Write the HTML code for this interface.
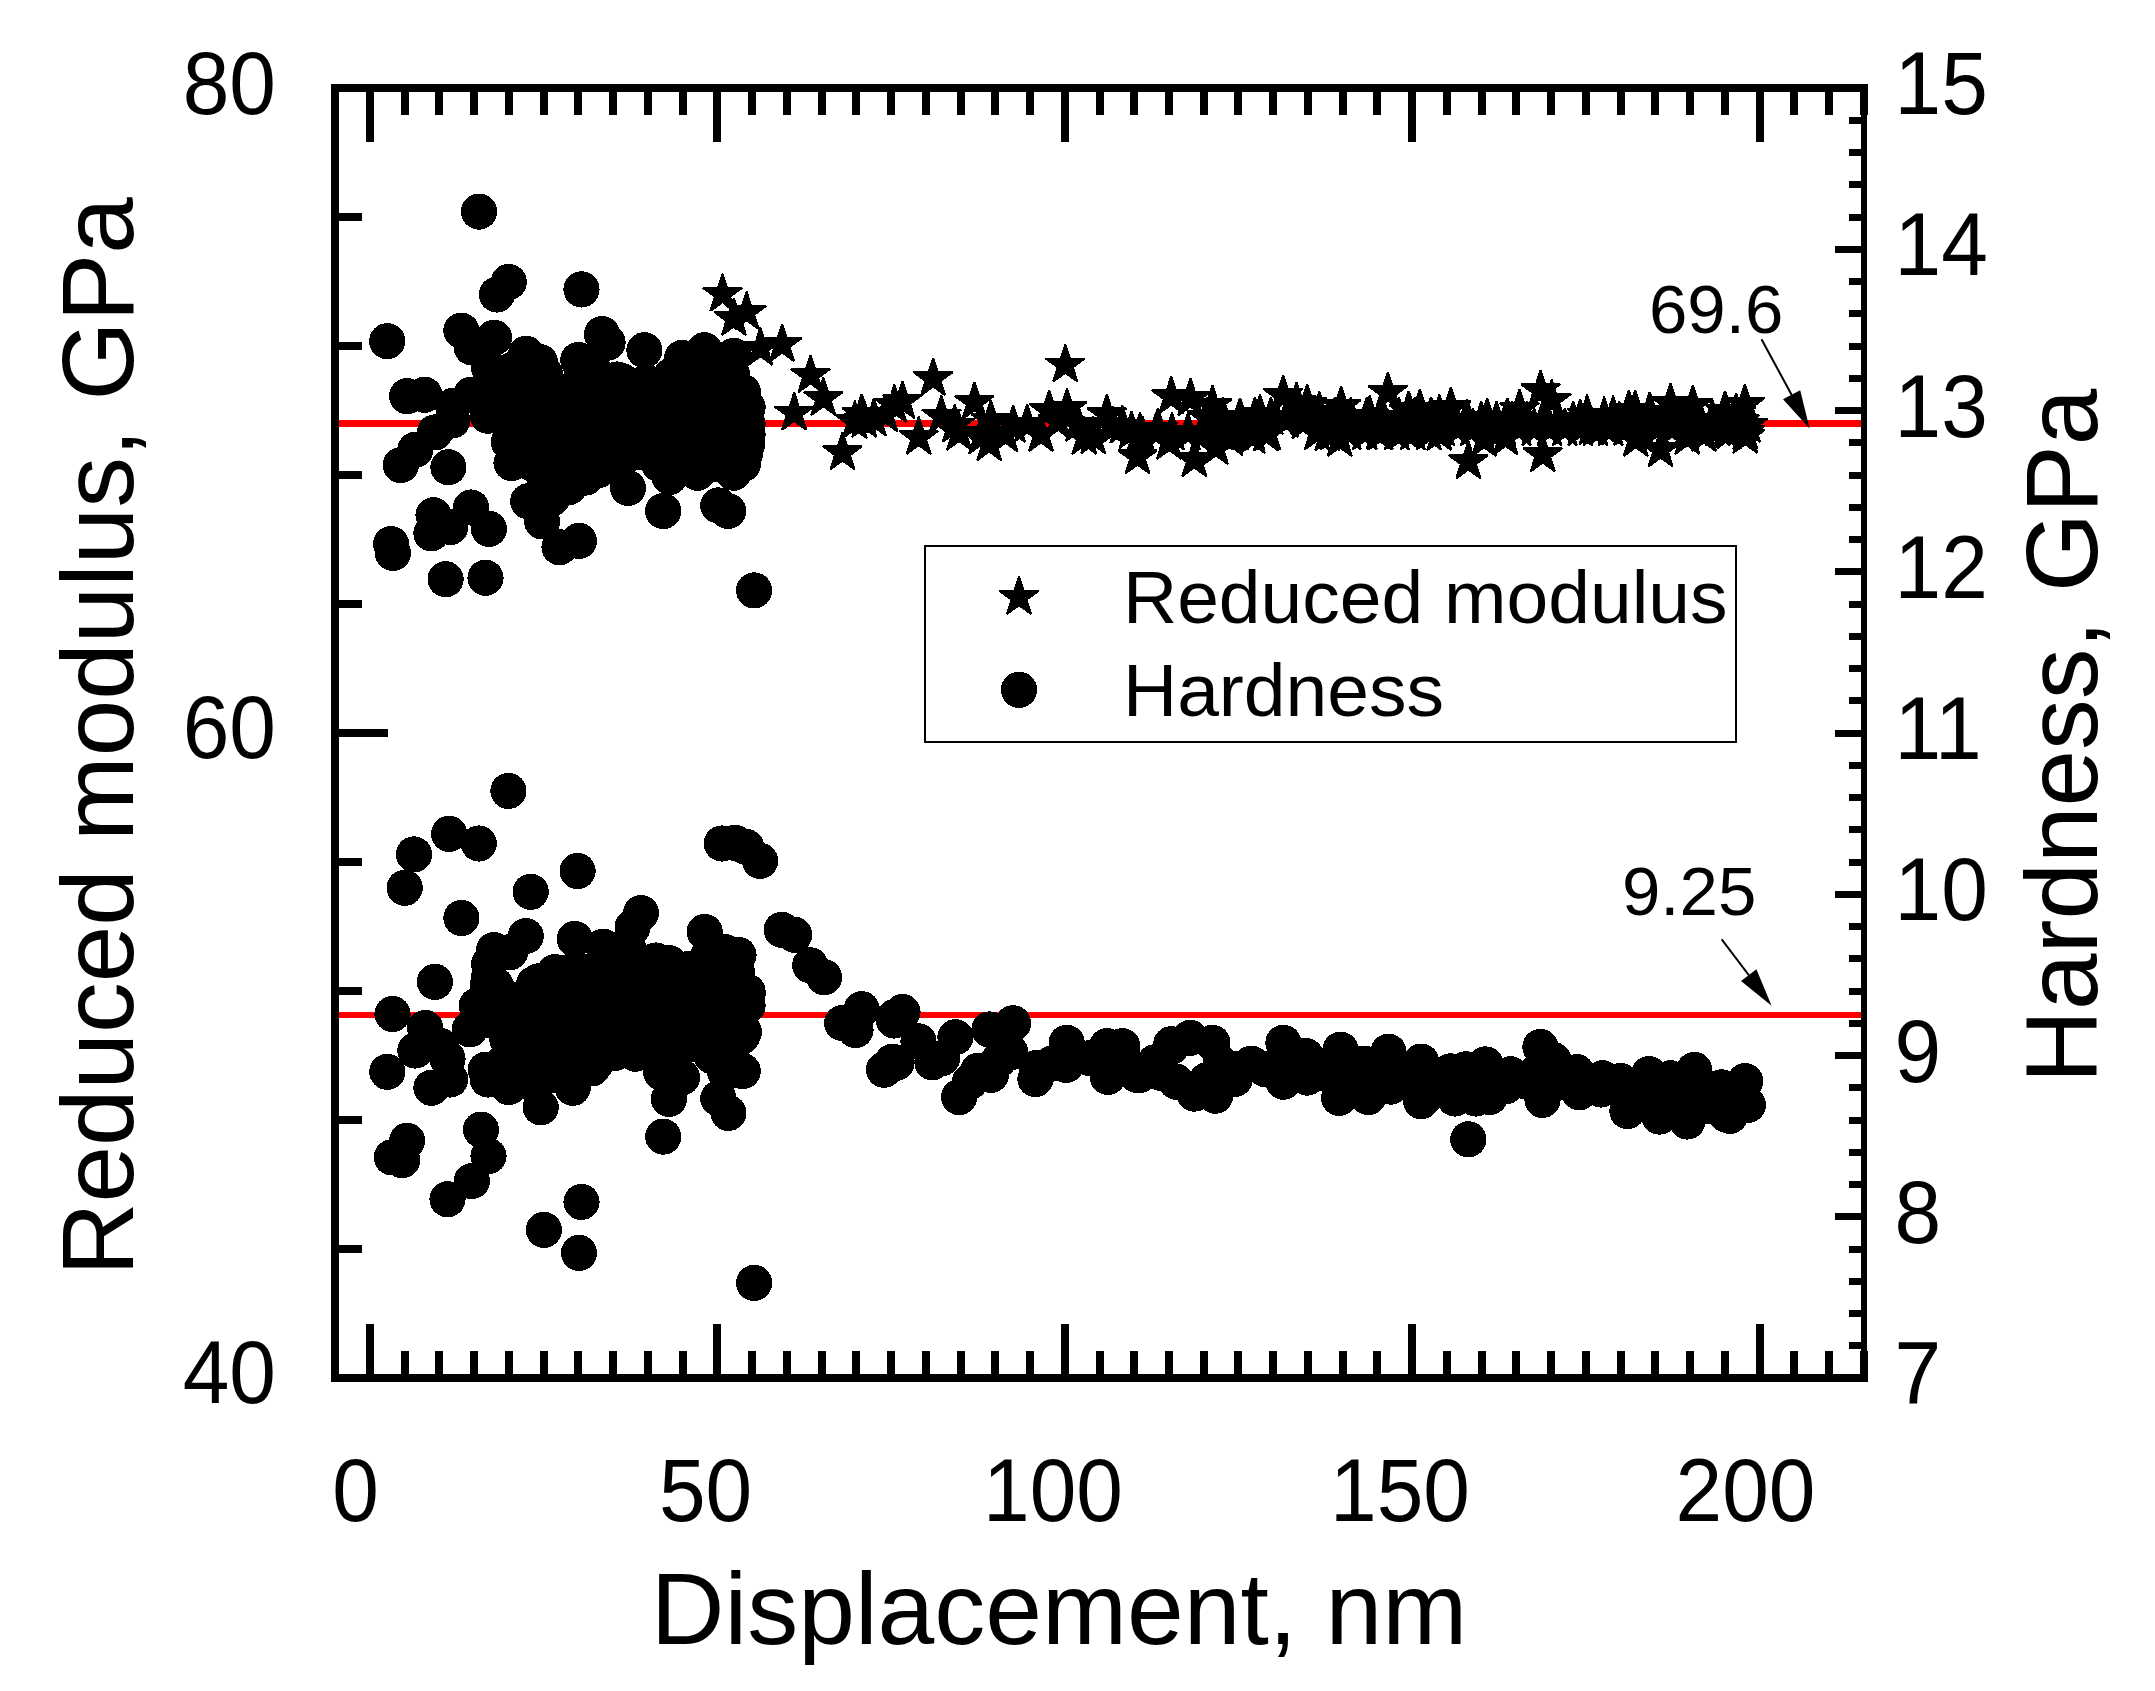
<!DOCTYPE html>
<html><head><meta charset="utf-8"><title>Reduced modulus and hardness vs displacement</title>
<style>html,body{margin:0;padding:0;background:#fff}svg{display:block}text{font-family:"Liberation Sans",Arial,sans-serif;fill:#000}</style></head><body>
<svg width="2155" height="1691" viewBox="0 0 2155 1691">
<rect width="2155" height="1691" fill="#fff"/>
<g fill="#f00" shape-rendering="crispEdges">
<rect x="339" y="420" width="1522" height="7"/>
<rect x="339" y="1012" width="1522" height="6"/>
</g>
<g fill="#000" stroke="#000" stroke-width="2" stroke-linejoin="bevel" shape-rendering="crispEdges">
<polygon points="722.5,273.7 727.1,287.9 742.1,287.9 730.0,296.7 734.6,311.0 722.5,302.2 710.4,311.0 715.0,296.7 702.9,287.9 717.9,287.9"/>
<polygon points="746.6,291.8 751.2,306.0 766.2,306.0 754.1,314.8 758.7,329.1 746.6,320.3 734.5,329.1 739.1,314.8 727.0,306.0 742.0,306.0"/>
<polygon points="733.9,297.9 738.5,312.1 753.5,312.1 741.4,320.9 746.0,335.2 733.9,326.4 721.8,335.2 726.4,320.9 714.3,312.1 729.3,312.1"/>
<polygon points="782.1,324.0 786.7,338.2 801.7,338.2 789.6,347.0 794.2,361.3 782.1,352.5 770.0,361.3 774.6,347.0 762.5,338.2 777.5,338.2"/>
<polygon points="760.4,327.7 765.0,341.9 780.0,341.9 767.9,350.7 772.5,365.0 760.4,356.2 748.3,365.0 752.9,350.7 740.8,341.9 755.8,341.9"/>
<polygon points="810.5,354.9 815.1,369.1 830.1,369.1 818.0,377.9 822.6,392.2 810.5,383.4 798.4,392.2 803.0,377.9 790.9,369.1 805.9,369.1"/>
<polygon points="823.4,377.8 828.0,392.0 843.0,392.0 830.9,400.8 835.5,415.1 823.4,406.3 811.3,415.1 815.9,400.8 803.8,392.0 818.8,392.0"/>
<polygon points="794.2,392.5 798.8,406.7 813.8,406.7 801.7,415.5 806.3,429.8 794.2,421.0 782.1,429.8 786.7,415.5 774.6,406.7 789.6,406.7"/>
<polygon points="861.7,393.9 866.3,408.1 881.3,408.1 869.2,416.9 873.8,431.2 861.7,422.4 849.6,431.2 854.2,416.9 842.1,408.1 857.1,408.1"/>
<polygon points="854.8,400.8 859.4,415.0 874.4,415.0 862.3,423.8 866.9,438.1 854.8,429.3 842.7,438.1 847.3,423.8 835.2,415.0 850.2,415.0"/>
<polygon points="894.4,384.8 899.0,399.0 914.0,399.0 901.9,407.8 906.5,422.1 894.4,413.3 882.3,422.1 886.9,407.8 874.8,399.0 889.8,399.0"/>
<polygon points="885.4,394.3 890.0,408.5 905.0,408.5 892.9,417.3 897.5,431.6 885.4,422.8 873.3,431.6 877.9,417.3 865.8,408.5 880.8,408.5"/>
<polygon points="842.5,432.1 847.1,446.3 862.1,446.3 850.0,455.1 854.6,469.4 842.5,460.6 830.4,469.4 835.0,455.1 822.9,446.3 837.9,446.3"/>
<polygon points="933.1,358.0 937.7,372.2 952.7,372.2 940.6,381.0 945.2,395.3 933.1,386.5 921.0,395.3 925.6,381.0 913.5,372.2 928.5,372.2"/>
<polygon points="1065.3,344.3 1069.9,358.5 1084.9,358.5 1072.8,367.3 1077.4,381.6 1065.3,372.8 1053.2,381.6 1057.8,367.3 1045.7,358.5 1060.7,358.5"/>
<polygon points="902.5,380.9 907.1,395.1 922.1,395.1 910.0,403.9 914.6,418.2 902.5,409.4 890.4,418.2 895.0,403.9 882.9,395.1 897.9,395.1"/>
<polygon points="974.4,381.9 979.0,396.1 994.0,396.1 981.9,404.9 986.5,419.2 974.4,410.4 962.3,419.2 966.9,404.9 954.8,396.1 969.8,396.1"/>
<polygon points="990.9,400.0 995.5,414.2 1010.5,414.2 998.4,423.0 1003.0,437.3 990.9,428.5 978.8,437.3 983.4,423.0 971.3,414.2 986.3,414.2"/>
<polygon points="1013.1,404.9 1017.7,419.1 1032.7,419.1 1020.6,427.9 1025.2,442.2 1013.1,433.4 1001.0,442.2 1005.6,427.9 993.5,419.1 1008.5,419.1"/>
<polygon points="1049.1,390.0 1053.7,404.2 1068.7,404.2 1056.6,413.0 1061.2,427.3 1049.1,418.5 1037.0,427.3 1041.6,413.0 1029.5,404.2 1044.5,404.2"/>
<polygon points="1067.0,388.2 1071.6,402.4 1086.6,402.4 1074.5,411.2 1079.1,425.5 1067.0,416.7 1054.9,425.5 1059.5,411.2 1047.4,402.4 1062.4,402.4"/>
<polygon points="1106.8,394.2 1111.4,408.4 1126.4,408.4 1114.3,417.2 1118.9,431.5 1106.8,422.7 1094.7,431.5 1099.3,417.2 1087.2,408.4 1102.2,408.4"/>
<polygon points="1122.4,405.6 1127.0,419.8 1142.0,419.8 1129.9,428.6 1134.5,442.9 1122.4,434.1 1110.3,442.9 1114.9,428.6 1102.8,419.8 1117.8,419.8"/>
<polygon points="1142.6,416.0 1147.2,430.2 1162.2,430.2 1150.1,439.0 1154.7,453.3 1142.6,444.5 1130.5,453.3 1135.1,439.0 1123.0,430.2 1138.0,430.2"/>
<polygon points="1157.9,408.4 1162.5,422.6 1177.5,422.6 1165.4,431.4 1170.0,445.7 1157.9,436.9 1145.8,445.7 1150.4,431.4 1138.3,422.6 1153.3,422.6"/>
<polygon points="918.7,416.7 923.3,430.9 938.3,430.9 926.2,439.7 930.8,454.0 918.7,445.2 906.6,454.0 911.2,439.7 899.1,430.9 914.1,430.9"/>
<polygon points="959.1,412.5 963.7,426.7 978.7,426.7 966.6,435.5 971.2,449.8 959.1,441.0 947.0,449.8 951.6,435.5 939.5,426.7 954.5,426.7"/>
<polygon points="989.2,423.0 993.8,437.2 1008.8,437.2 996.7,446.0 1001.3,460.3 989.2,451.5 977.1,460.3 981.7,446.0 969.6,437.2 984.6,437.2"/>
<polygon points="981.1,416.4 985.7,430.6 1000.7,430.6 988.6,439.4 993.2,453.7 981.1,444.9 969.0,453.7 973.6,439.4 961.5,430.6 976.5,430.6"/>
<polygon points="1005.5,414.3 1010.1,428.5 1025.1,428.5 1013.0,437.3 1017.6,451.6 1005.5,442.8 993.4,451.6 998.0,437.3 985.9,428.5 1000.9,428.5"/>
<polygon points="1041.0,413.9 1045.6,428.1 1060.6,428.1 1048.5,436.9 1053.1,451.2 1041.0,442.4 1028.9,451.2 1033.5,436.9 1021.4,428.1 1036.4,428.1"/>
<polygon points="1084.4,416.7 1089.0,430.9 1104.0,430.9 1091.9,439.7 1096.5,454.0 1084.4,445.2 1072.3,454.0 1076.9,439.7 1064.8,430.9 1079.8,430.9"/>
<polygon points="1093.2,416.1 1097.8,430.3 1112.8,430.3 1100.7,439.1 1105.3,453.4 1093.2,444.6 1081.1,453.4 1085.7,439.1 1073.6,430.3 1088.6,430.3"/>
<polygon points="1137.5,436.2 1142.1,450.4 1157.1,450.4 1145.0,459.2 1149.6,473.5 1137.5,464.7 1125.4,473.5 1130.0,459.2 1117.9,450.4 1132.9,450.4"/>
<polygon points="1077.9,403.9 1082.5,418.1 1097.5,418.1 1085.4,426.9 1090.0,441.2 1077.9,432.4 1065.8,441.2 1070.4,426.9 1058.3,418.1 1073.3,418.1"/>
<polygon points="1112.7,406.7 1117.3,420.9 1132.3,420.9 1120.2,429.7 1124.8,444.0 1112.7,435.2 1100.6,444.0 1105.2,429.7 1093.1,420.9 1108.1,420.9"/>
<polygon points="941.4,395.5 946.0,409.7 961.0,409.7 948.9,418.5 953.5,432.8 941.4,424.0 929.3,432.8 933.9,418.5 921.8,409.7 936.8,409.7"/>
<polygon points="954.7,404.6 959.3,418.8 974.3,418.8 962.2,427.6 966.8,441.9 954.7,433.1 942.6,441.9 947.2,427.6 935.1,418.8 950.1,418.8"/>
<polygon points="873.9,398.3 878.5,412.5 893.5,412.5 881.4,421.3 886.0,435.6 873.9,426.8 861.8,435.6 866.4,421.3 854.3,412.5 869.3,412.5"/>
<polygon points="864.2,399.7 868.8,413.9 883.8,413.9 871.7,422.7 876.3,437.0 864.2,428.2 852.1,437.0 856.7,422.7 844.6,413.9 859.6,413.9"/>
<polygon points="1027.1,403.9 1031.7,418.1 1046.7,418.1 1034.6,426.9 1039.2,441.2 1027.1,432.4 1015.0,441.2 1019.6,426.9 1007.5,418.1 1022.5,418.1"/>
<polygon points="1057.7,401.1 1062.3,415.3 1077.3,415.3 1065.2,424.1 1069.8,438.4 1057.7,429.6 1045.6,438.4 1050.2,424.1 1038.1,415.3 1053.1,415.3"/>
<polygon points="1131.5,410.9 1136.1,425.1 1151.1,425.1 1139.0,433.9 1143.6,448.2 1131.5,439.4 1119.4,448.2 1124.0,433.9 1111.9,425.1 1126.9,425.1"/>
<polygon points="1171.3,376.1 1175.9,390.3 1190.9,390.3 1178.8,399.1 1183.4,413.4 1171.3,404.6 1159.2,413.4 1163.8,399.1 1151.7,390.3 1166.7,390.3"/>
<polygon points="1190.4,378.0 1195.0,392.2 1210.0,392.2 1197.9,401.0 1202.5,415.3 1190.4,406.5 1178.3,415.3 1182.9,401.0 1170.8,392.2 1185.8,392.2"/>
<polygon points="1212.4,385.0 1217.0,399.2 1232.0,399.2 1219.9,408.0 1224.5,422.3 1212.4,413.5 1200.3,422.3 1204.9,408.0 1192.8,399.2 1207.8,399.2"/>
<polygon points="1240.0,397.9 1244.6,412.1 1259.6,412.1 1247.5,420.9 1252.1,435.2 1240.0,426.4 1227.9,435.2 1232.5,420.9 1220.4,412.1 1235.4,412.1"/>
<polygon points="1260.0,394.2 1264.6,408.4 1279.6,408.4 1267.5,417.2 1272.1,431.5 1260.0,422.7 1247.9,431.5 1252.5,417.2 1240.4,408.4 1255.4,408.4"/>
<polygon points="1283.1,374.9 1287.7,389.1 1302.7,389.1 1290.6,397.9 1295.2,412.2 1283.1,403.4 1271.0,412.2 1275.6,397.9 1263.5,389.1 1278.5,389.1"/>
<polygon points="1296.6,381.9 1301.2,396.1 1316.2,396.1 1304.1,404.9 1308.7,419.2 1296.6,410.4 1284.5,419.2 1289.1,404.9 1277.0,396.1 1292.0,396.1"/>
<polygon points="1307.1,384.0 1311.7,398.2 1326.7,398.2 1314.6,407.0 1319.2,421.3 1307.1,412.5 1295.0,421.3 1299.6,407.0 1287.5,398.2 1302.5,398.2"/>
<polygon points="1319.2,391.6 1323.8,405.8 1338.8,405.8 1326.7,414.6 1331.3,428.9 1319.2,420.1 1307.1,428.9 1311.7,414.6 1299.6,405.8 1314.6,405.8"/>
<polygon points="1341.2,386.1 1345.8,400.3 1360.8,400.3 1348.7,409.1 1353.3,423.4 1341.2,414.6 1329.1,423.4 1333.7,409.1 1321.6,400.3 1336.6,400.3"/>
<polygon points="1387.8,371.9 1392.4,386.1 1407.4,386.1 1395.3,394.9 1399.9,409.2 1387.8,400.4 1375.7,409.2 1380.3,394.9 1368.2,386.1 1383.2,386.1"/>
<polygon points="1369.7,395.8 1374.3,410.0 1389.3,410.0 1377.2,418.8 1381.8,433.1 1369.7,424.3 1357.6,433.1 1362.2,418.8 1350.1,410.0 1365.1,410.0"/>
<polygon points="1408.7,390.9 1413.3,405.1 1428.3,405.1 1416.2,413.9 1420.8,428.2 1408.7,419.4 1396.6,428.2 1401.2,413.9 1389.1,405.1 1404.1,405.1"/>
<polygon points="1419.8,388.9 1424.4,403.1 1439.4,403.1 1427.3,411.9 1431.9,426.2 1419.8,417.4 1407.7,426.2 1412.3,411.9 1400.2,403.1 1415.2,403.1"/>
<polygon points="1439.3,394.4 1443.9,408.6 1458.9,408.6 1446.8,417.4 1451.4,431.7 1439.3,422.9 1427.2,431.7 1431.8,417.4 1419.7,408.6 1434.7,408.6"/>
<polygon points="1194.3,439.0 1198.9,453.2 1213.9,453.2 1201.8,462.0 1206.4,476.3 1194.3,467.5 1182.2,476.3 1186.8,462.0 1174.7,453.2 1189.7,453.2"/>
<polygon points="1169.2,421.6 1173.8,435.8 1188.8,435.8 1176.7,444.6 1181.3,458.9 1169.2,450.1 1157.1,458.9 1161.7,444.6 1149.6,435.8 1164.6,435.8"/>
<polygon points="1215.9,426.9 1220.5,441.1 1235.5,441.1 1223.4,449.9 1228.0,464.2 1215.9,455.4 1203.8,464.2 1208.4,449.9 1196.3,441.1 1211.3,441.1"/>
<polygon points="1230.5,417.8 1235.1,432.0 1250.1,432.0 1238.0,440.8 1242.6,455.1 1230.5,446.3 1218.4,455.1 1223.0,440.8 1210.9,432.0 1225.9,432.0"/>
<polygon points="1252.8,415.7 1257.4,429.9 1272.4,429.9 1260.3,438.7 1264.9,453.0 1252.8,444.2 1240.7,453.0 1245.3,438.7 1233.2,429.9 1248.2,429.9"/>
<polygon points="1266.0,413.2 1270.6,427.4 1285.6,427.4 1273.5,436.2 1278.1,450.5 1266.0,441.7 1253.9,450.5 1258.5,436.2 1246.4,427.4 1261.4,427.4"/>
<polygon points="1339.8,418.8 1344.4,433.0 1359.4,433.0 1347.3,441.8 1351.9,456.1 1339.8,447.3 1327.7,456.1 1332.3,441.8 1320.2,433.0 1335.2,433.0"/>
<polygon points="1327.2,413.2 1331.8,427.4 1346.8,427.4 1334.7,436.2 1339.3,450.5 1327.2,441.7 1315.1,450.5 1319.7,436.2 1307.6,427.4 1322.6,427.4"/>
<polygon points="1378.8,411.8 1383.4,426.0 1398.4,426.0 1386.3,434.8 1390.9,449.1 1378.8,440.3 1366.7,449.1 1371.3,434.8 1359.2,426.0 1374.2,426.0"/>
<polygon points="1404.5,409.5 1409.1,423.7 1424.1,423.7 1412.0,432.5 1416.6,446.8 1404.5,438.0 1392.4,446.8 1397.0,432.5 1384.9,423.7 1399.9,423.7"/>
<polygon points="1439.3,412.9 1443.9,427.1 1458.9,427.1 1446.8,435.9 1451.4,450.2 1439.3,441.4 1427.2,450.2 1431.8,435.9 1419.7,427.1 1434.7,427.1"/>
<polygon points="1364.1,405.3 1368.7,419.5 1383.7,419.5 1371.6,428.3 1376.2,442.6 1364.1,433.8 1352.0,442.6 1356.6,428.3 1344.5,419.5 1359.5,419.5"/>
<polygon points="1206.8,396.9 1211.4,411.1 1226.4,411.1 1214.3,419.9 1218.9,434.2 1206.8,425.4 1194.7,434.2 1199.3,419.9 1187.2,411.1 1202.2,411.1"/>
<polygon points="1222.8,396.9 1227.4,411.1 1242.4,411.1 1230.3,419.9 1234.9,434.2 1222.8,425.4 1210.7,434.2 1215.3,419.9 1203.2,411.1 1218.2,411.1"/>
<polygon points="1254.9,396.9 1259.5,411.1 1274.5,411.1 1262.4,419.9 1267.0,434.2 1254.9,425.4 1242.8,434.2 1247.4,419.9 1235.3,411.1 1250.3,411.1"/>
<polygon points="1270.9,396.9 1275.5,411.1 1290.5,411.1 1278.4,419.9 1283.0,434.2 1270.9,425.4 1258.8,434.2 1263.4,419.9 1251.3,411.1 1266.3,411.1"/>
<polygon points="1286.9,396.9 1291.5,411.1 1306.5,411.1 1294.4,419.9 1299.0,434.2 1286.9,425.4 1274.8,434.2 1279.4,419.9 1267.3,411.1 1282.3,411.1"/>
<polygon points="1302.9,396.9 1307.5,411.1 1322.5,411.1 1310.4,419.9 1315.0,434.2 1302.9,425.4 1290.8,434.2 1295.4,419.9 1283.3,411.1 1298.3,411.1"/>
<polygon points="1318.9,396.9 1323.5,411.1 1338.5,411.1 1326.4,419.9 1331.0,434.2 1318.9,425.4 1306.8,434.2 1311.4,419.9 1299.3,411.1 1314.3,411.1"/>
<polygon points="1334.9,396.9 1339.5,411.1 1354.5,411.1 1342.4,419.9 1347.0,434.2 1334.9,425.4 1322.8,434.2 1327.4,419.9 1315.3,411.1 1330.3,411.1"/>
<polygon points="1350.9,396.9 1355.5,411.1 1370.5,411.1 1358.4,419.9 1363.0,434.2 1350.9,425.4 1338.8,434.2 1343.4,419.9 1331.3,411.1 1346.3,411.1"/>
<polygon points="1366.9,396.9 1371.5,411.1 1386.5,411.1 1374.4,419.9 1379.0,434.2 1366.9,425.4 1354.8,434.2 1359.4,419.9 1347.3,411.1 1362.3,411.1"/>
<polygon points="1382.9,396.9 1387.5,411.1 1402.5,411.1 1390.4,419.9 1395.0,434.2 1382.9,425.4 1370.8,434.2 1375.4,419.9 1363.3,411.1 1378.3,411.1"/>
<polygon points="1398.9,396.9 1403.5,411.1 1418.5,411.1 1406.4,419.9 1411.0,434.2 1398.9,425.4 1386.8,434.2 1391.4,419.9 1379.3,411.1 1394.3,411.1"/>
<polygon points="1415.0,396.9 1419.6,411.1 1434.6,411.1 1422.5,419.9 1427.1,434.2 1415.0,425.4 1402.9,434.2 1407.5,419.9 1395.4,411.1 1410.4,411.1"/>
<polygon points="1431.0,396.9 1435.6,411.1 1450.6,411.1 1438.5,419.9 1443.1,434.2 1431.0,425.4 1418.9,434.2 1423.5,419.9 1411.4,411.1 1426.4,411.1"/>
<polygon points="1140.0,412.2 1144.6,426.4 1159.6,426.4 1147.5,435.2 1152.1,449.5 1140.0,440.7 1127.9,449.5 1132.5,435.2 1120.4,426.4 1135.4,426.4"/>
<polygon points="1156.0,412.2 1160.6,426.4 1175.6,426.4 1163.5,435.2 1168.1,449.5 1156.0,440.7 1143.9,449.5 1148.5,435.2 1136.4,426.4 1151.4,426.4"/>
<polygon points="1172.0,412.2 1176.6,426.4 1191.6,426.4 1179.5,435.2 1184.1,449.5 1172.0,440.7 1159.9,449.5 1164.5,435.2 1152.4,426.4 1167.4,426.4"/>
<polygon points="1188.0,412.2 1192.6,426.4 1207.6,426.4 1195.5,435.2 1200.1,449.5 1188.0,440.7 1175.9,449.5 1180.5,435.2 1168.4,426.4 1183.4,426.4"/>
<polygon points="1204.0,412.2 1208.6,426.4 1223.6,426.4 1211.5,435.2 1216.1,449.5 1204.0,440.7 1191.9,449.5 1196.5,435.2 1184.4,426.4 1199.4,426.4"/>
<polygon points="1220.1,412.2 1224.7,426.4 1239.7,426.4 1227.6,435.2 1232.2,449.5 1220.1,440.7 1208.0,449.5 1212.6,435.2 1200.5,426.4 1215.5,426.4"/>
<polygon points="1236.1,412.2 1240.7,426.4 1255.7,426.4 1243.6,435.2 1248.2,449.5 1236.1,440.7 1224.0,449.5 1228.6,435.2 1216.5,426.4 1231.5,426.4"/>
<polygon points="1252.1,412.2 1256.7,426.4 1271.7,426.4 1259.6,435.2 1264.2,449.5 1252.1,440.7 1240.0,449.5 1244.6,435.2 1232.5,426.4 1247.5,426.4"/>
<polygon points="1268.1,412.2 1272.7,426.4 1287.7,426.4 1275.6,435.2 1280.2,449.5 1268.1,440.7 1256.0,449.5 1260.6,435.2 1248.5,426.4 1263.5,426.4"/>
<polygon points="1316.8,412.2 1321.4,426.4 1336.4,426.4 1324.3,435.2 1328.9,449.5 1316.8,440.7 1304.7,449.5 1309.3,435.2 1297.2,426.4 1312.2,426.4"/>
<polygon points="1332.8,412.2 1337.4,426.4 1352.4,426.4 1340.3,435.2 1344.9,449.5 1332.8,440.7 1320.7,449.5 1325.3,435.2 1313.2,426.4 1328.2,426.4"/>
<polygon points="1348.8,412.2 1353.4,426.4 1368.4,426.4 1356.3,435.2 1360.9,449.5 1348.8,440.7 1336.7,449.5 1341.3,435.2 1329.2,426.4 1344.2,426.4"/>
<polygon points="1364.8,412.2 1369.4,426.4 1384.4,426.4 1372.3,435.2 1376.9,449.5 1364.8,440.7 1352.7,449.5 1357.3,435.2 1345.2,426.4 1360.2,426.4"/>
<polygon points="1380.8,412.2 1385.4,426.4 1400.4,426.4 1388.3,435.2 1392.9,449.5 1380.8,440.7 1368.7,449.5 1373.3,435.2 1361.2,426.4 1376.2,426.4"/>
<polygon points="1396.9,412.2 1401.5,426.4 1416.5,426.4 1404.4,435.2 1409.0,449.5 1396.9,440.7 1384.8,449.5 1389.4,435.2 1377.3,426.4 1392.3,426.4"/>
<polygon points="1412.9,412.2 1417.5,426.4 1432.5,426.4 1420.4,435.2 1425.0,449.5 1412.9,440.7 1400.8,449.5 1405.4,435.2 1393.3,426.4 1408.3,426.4"/>
<polygon points="1428.9,412.2 1433.5,426.4 1448.5,426.4 1436.4,435.2 1441.0,449.5 1428.9,440.7 1416.8,449.5 1421.4,435.2 1409.3,426.4 1424.3,426.4"/>
<polygon points="1286.2,399.7 1290.8,413.9 1305.8,413.9 1293.7,422.7 1298.3,437.0 1286.2,428.2 1274.1,437.0 1278.7,422.7 1266.6,413.9 1281.6,413.9"/>
<polygon points="1304.3,401.1 1308.9,415.3 1323.9,415.3 1311.8,424.1 1316.4,438.4 1304.3,429.6 1292.2,438.4 1296.8,424.1 1284.7,415.3 1299.7,415.3"/>
<polygon points="1450.9,387.2 1455.5,401.4 1470.5,401.4 1458.4,410.2 1463.0,424.5 1450.9,415.7 1438.8,424.5 1443.4,410.2 1431.3,401.4 1446.3,401.4"/>
<polygon points="1467.3,399.3 1471.9,413.5 1486.9,413.5 1474.8,422.3 1479.4,436.6 1467.3,427.8 1455.2,436.6 1459.8,422.3 1447.7,413.5 1462.7,413.5"/>
<polygon points="1487.2,397.9 1491.8,412.1 1506.8,412.1 1494.7,420.9 1499.3,435.2 1487.2,426.4 1475.1,435.2 1479.7,420.9 1467.6,412.1 1482.6,412.1"/>
<polygon points="1507.4,397.9 1512.0,412.1 1527.0,412.1 1514.9,420.9 1519.5,435.2 1507.4,426.4 1495.3,435.2 1499.9,420.9 1487.8,412.1 1502.8,412.1"/>
<polygon points="1519.5,388.9 1524.1,403.1 1539.1,403.1 1527.0,411.9 1531.6,426.2 1519.5,417.4 1507.4,426.2 1512.0,411.9 1499.9,403.1 1514.9,403.1"/>
<polygon points="1540.6,370.1 1545.2,384.3 1560.2,384.3 1548.1,393.1 1552.7,407.4 1540.6,398.6 1528.5,407.4 1533.1,393.1 1521.0,384.3 1536.0,384.3"/>
<polygon points="1551.6,379.8 1556.2,394.0 1571.2,394.0 1559.1,402.8 1563.7,417.1 1551.6,408.3 1539.5,417.1 1544.1,402.8 1532.0,394.0 1547.0,394.0"/>
<polygon points="1580.1,398.9 1584.7,413.1 1599.7,413.1 1587.6,421.9 1592.2,436.2 1580.1,427.4 1568.0,436.2 1572.6,421.9 1560.5,413.1 1575.5,413.1"/>
<polygon points="1587.1,394.8 1591.7,409.0 1606.7,409.0 1594.6,417.8 1599.2,432.1 1587.1,423.3 1575.0,432.1 1579.6,417.8 1567.5,409.0 1582.5,409.0"/>
<polygon points="1604.2,396.8 1608.8,411.0 1623.8,411.0 1611.7,419.8 1616.3,434.1 1604.2,425.3 1592.1,434.1 1596.7,419.8 1584.6,411.0 1599.6,411.0"/>
<polygon points="1613.2,395.8 1617.8,410.0 1632.8,410.0 1620.7,418.8 1625.3,433.1 1613.2,424.3 1601.1,433.1 1605.7,418.8 1593.6,410.0 1608.6,410.0"/>
<polygon points="1628.8,390.0 1633.4,404.2 1648.4,404.2 1636.3,413.0 1640.9,427.3 1628.8,418.5 1616.7,427.3 1621.3,413.0 1609.2,404.2 1624.2,404.2"/>
<polygon points="1635.1,390.0 1639.7,404.2 1654.7,404.2 1642.6,413.0 1647.2,427.3 1635.1,418.5 1623.0,427.3 1627.6,413.0 1615.5,404.2 1630.5,404.2"/>
<polygon points="1649.7,391.9 1654.3,406.1 1669.3,406.1 1657.2,414.9 1661.8,429.2 1649.7,420.4 1637.6,429.2 1642.2,414.9 1630.1,406.1 1645.1,406.1"/>
<polygon points="1670.6,383.0 1675.2,397.2 1690.2,397.2 1678.1,406.0 1682.7,420.3 1670.6,411.5 1658.5,420.3 1663.1,406.0 1651.0,397.2 1666.0,397.2"/>
<polygon points="1692.9,385.0 1697.5,399.2 1712.5,399.2 1700.4,408.0 1705.0,422.3 1692.9,413.5 1680.8,422.3 1685.4,408.0 1673.3,399.2 1688.3,399.2"/>
<polygon points="1712.4,399.7 1717.0,413.9 1732.0,413.9 1719.9,422.7 1724.5,437.0 1712.4,428.2 1700.3,437.0 1704.9,422.7 1692.8,413.9 1707.8,413.9"/>
<polygon points="1468.4,441.1 1473.0,455.3 1488.0,455.3 1475.9,464.1 1480.5,478.4 1468.4,469.6 1456.3,478.4 1460.9,464.1 1448.8,455.3 1463.8,455.3"/>
<polygon points="1542.8,434.1 1547.4,448.3 1562.4,448.3 1550.3,457.1 1554.9,471.4 1542.8,462.6 1530.7,471.4 1535.3,457.1 1523.2,448.3 1538.2,448.3"/>
<polygon points="1660.6,429.2 1665.2,443.4 1680.2,443.4 1668.1,452.2 1672.7,466.5 1660.6,457.7 1648.5,466.5 1653.1,452.2 1641.0,443.4 1656.0,443.4"/>
<polygon points="1635.8,418.8 1640.4,433.0 1655.4,433.0 1643.3,441.8 1647.9,456.1 1635.8,447.3 1623.7,456.1 1628.3,441.8 1616.2,433.0 1631.2,433.0"/>
<polygon points="1505.6,417.4 1510.2,431.6 1525.2,431.6 1513.1,440.4 1517.7,454.7 1505.6,445.9 1493.5,454.7 1498.1,440.4 1486.0,431.6 1501.0,431.6"/>
<polygon points="1484.0,418.8 1488.6,433.0 1503.6,433.0 1491.5,441.8 1496.1,456.1 1484.0,447.3 1471.9,456.1 1476.5,441.8 1464.4,433.0 1479.4,433.0"/>
<polygon points="1591.5,407.0 1596.1,421.2 1611.1,421.2 1599.0,430.0 1603.6,444.3 1591.5,435.5 1579.4,444.3 1584.0,430.0 1571.9,421.2 1586.9,421.2"/>
<polygon points="1603.8,405.6 1608.4,419.8 1623.4,419.8 1611.3,428.6 1615.9,442.9 1603.8,434.1 1591.7,442.9 1596.3,428.6 1584.2,419.8 1599.2,419.8"/>
<polygon points="1687.3,416.7 1691.9,430.9 1706.9,430.9 1694.8,439.7 1699.4,454.0 1687.3,445.2 1675.2,454.0 1679.8,439.7 1667.7,430.9 1682.7,430.9"/>
<polygon points="1704.0,413.9 1708.6,428.1 1723.6,428.1 1711.5,436.9 1716.1,451.2 1704.0,442.4 1691.9,451.2 1696.5,436.9 1684.4,428.1 1699.4,428.1"/>
<polygon points="1726.3,410.9 1730.9,425.1 1745.9,425.1 1733.8,433.9 1738.4,448.2 1726.3,439.4 1714.2,448.2 1718.8,433.9 1706.7,425.1 1721.7,425.1"/>
<polygon points="1420.0,401.1 1424.6,415.3 1439.6,415.3 1427.5,424.1 1432.1,438.4 1420.0,429.6 1407.9,438.4 1412.5,424.1 1400.4,415.3 1415.4,415.3"/>
<polygon points="1435.3,401.1 1439.9,415.3 1454.9,415.3 1442.8,424.1 1447.4,438.4 1435.3,429.6 1423.2,438.4 1427.8,424.1 1415.7,415.3 1430.7,415.3"/>
<polygon points="1450.6,401.1 1455.2,415.3 1470.2,415.3 1458.1,424.1 1462.7,438.4 1450.6,429.6 1438.5,438.4 1443.1,424.1 1431.0,415.3 1446.0,415.3"/>
<polygon points="1465.9,401.1 1470.5,415.3 1485.5,415.3 1473.4,424.1 1478.0,438.4 1465.9,429.6 1453.8,438.4 1458.4,424.1 1446.3,415.3 1461.3,415.3"/>
<polygon points="1481.3,401.1 1485.9,415.3 1500.9,415.3 1488.8,424.1 1493.4,438.4 1481.3,429.6 1469.2,438.4 1473.8,424.1 1461.7,415.3 1476.7,415.3"/>
<polygon points="1496.6,401.1 1501.2,415.3 1516.2,415.3 1504.1,424.1 1508.7,438.4 1496.6,429.6 1484.5,438.4 1489.1,424.1 1477.0,415.3 1492.0,415.3"/>
<polygon points="1511.9,401.1 1516.5,415.3 1531.5,415.3 1519.4,424.1 1524.0,438.4 1511.9,429.6 1499.8,438.4 1504.4,424.1 1492.3,415.3 1507.3,415.3"/>
<polygon points="1527.2,401.1 1531.8,415.3 1546.8,415.3 1534.7,424.1 1539.3,438.4 1527.2,429.6 1515.1,438.4 1519.7,424.1 1507.6,415.3 1522.6,415.3"/>
<polygon points="1542.5,401.1 1547.1,415.3 1562.1,415.3 1550.0,424.1 1554.6,438.4 1542.5,429.6 1530.4,438.4 1535.0,424.1 1522.9,415.3 1537.9,415.3"/>
<polygon points="1557.8,401.1 1562.4,415.3 1577.4,415.3 1565.3,424.1 1569.9,438.4 1557.8,429.6 1545.7,438.4 1550.3,424.1 1538.2,415.3 1553.2,415.3"/>
<polygon points="1573.1,401.1 1577.7,415.3 1592.7,415.3 1580.6,424.1 1585.2,438.4 1573.1,429.6 1561.0,438.4 1565.6,424.1 1553.5,415.3 1568.5,415.3"/>
<polygon points="1588.5,401.1 1593.1,415.3 1608.1,415.3 1596.0,424.1 1600.6,438.4 1588.5,429.6 1576.4,438.4 1581.0,424.1 1568.9,415.3 1583.9,415.3"/>
<polygon points="1603.8,401.1 1608.4,415.3 1623.4,415.3 1611.3,424.1 1615.9,438.4 1603.8,429.6 1591.7,438.4 1596.3,424.1 1584.2,415.3 1599.2,415.3"/>
<polygon points="1619.1,401.1 1623.7,415.3 1638.7,415.3 1626.6,424.1 1631.2,438.4 1619.1,429.6 1607.0,438.4 1611.6,424.1 1599.5,415.3 1614.5,415.3"/>
<polygon points="1634.4,401.1 1639.0,415.3 1654.0,415.3 1641.9,424.1 1646.5,438.4 1634.4,429.6 1622.3,438.4 1626.9,424.1 1614.8,415.3 1629.8,415.3"/>
<polygon points="1649.7,401.1 1654.3,415.3 1669.3,415.3 1657.2,424.1 1661.8,438.4 1649.7,429.6 1637.6,438.4 1642.2,424.1 1630.1,415.3 1645.1,415.3"/>
<polygon points="1665.0,401.1 1669.6,415.3 1684.6,415.3 1672.5,424.1 1677.1,438.4 1665.0,429.6 1652.9,438.4 1657.5,424.1 1645.4,415.3 1660.4,415.3"/>
<polygon points="1680.3,401.1 1684.9,415.3 1699.9,415.3 1687.8,424.1 1692.4,438.4 1680.3,429.6 1668.2,438.4 1672.8,424.1 1660.7,415.3 1675.7,415.3"/>
<polygon points="1695.7,401.1 1700.3,415.3 1715.3,415.3 1703.2,424.1 1707.8,438.4 1695.7,429.6 1683.6,438.4 1688.2,424.1 1676.1,415.3 1691.1,415.3"/>
<polygon points="1427.0,408.1 1431.6,422.3 1446.6,422.3 1434.5,431.1 1439.1,445.4 1427.0,436.6 1414.9,445.4 1419.5,431.1 1407.4,422.3 1422.4,422.3"/>
<polygon points="1442.3,408.1 1446.9,422.3 1461.9,422.3 1449.8,431.1 1454.4,445.4 1442.3,436.6 1430.2,445.4 1434.8,431.1 1422.7,422.3 1437.7,422.3"/>
<polygon points="1457.6,408.1 1462.2,422.3 1477.2,422.3 1465.1,431.1 1469.7,445.4 1457.6,436.6 1445.5,445.4 1450.1,431.1 1438.0,422.3 1453.0,422.3"/>
<polygon points="1472.9,408.1 1477.5,422.3 1492.5,422.3 1480.4,431.1 1485.0,445.4 1472.9,436.6 1460.8,445.4 1465.4,431.1 1453.3,422.3 1468.3,422.3"/>
<polygon points="1488.2,408.1 1492.8,422.3 1507.8,422.3 1495.7,431.1 1500.3,445.4 1488.2,436.6 1476.1,445.4 1480.7,431.1 1468.6,422.3 1483.6,422.3"/>
<polygon points="1503.5,408.1 1508.1,422.3 1523.1,422.3 1511.0,431.1 1515.6,445.4 1503.5,436.6 1491.4,445.4 1496.0,431.1 1483.9,422.3 1498.9,422.3"/>
<polygon points="1518.8,408.1 1523.4,422.3 1538.4,422.3 1526.3,431.1 1530.9,445.4 1518.8,436.6 1506.7,445.4 1511.3,431.1 1499.2,422.3 1514.2,422.3"/>
<polygon points="1534.2,408.1 1538.8,422.3 1553.8,422.3 1541.7,431.1 1546.3,445.4 1534.2,436.6 1522.1,445.4 1526.7,431.1 1514.6,422.3 1529.6,422.3"/>
<polygon points="1549.5,408.1 1554.1,422.3 1569.1,422.3 1557.0,431.1 1561.6,445.4 1549.5,436.6 1537.4,445.4 1542.0,431.1 1529.9,422.3 1544.9,422.3"/>
<polygon points="1564.8,408.1 1569.4,422.3 1584.4,422.3 1572.3,431.1 1576.9,445.4 1564.8,436.6 1552.7,445.4 1557.3,431.1 1545.2,422.3 1560.2,422.3"/>
<polygon points="1580.1,408.1 1584.7,422.3 1599.7,422.3 1587.6,431.1 1592.2,445.4 1580.1,436.6 1568.0,445.4 1572.6,431.1 1560.5,422.3 1575.5,422.3"/>
<polygon points="1595.4,408.1 1600.0,422.3 1615.0,422.3 1602.9,431.1 1607.5,445.4 1595.4,436.6 1583.3,445.4 1587.9,431.1 1575.8,422.3 1590.8,422.3"/>
<polygon points="1610.7,408.1 1615.3,422.3 1630.3,422.3 1618.2,431.1 1622.8,445.4 1610.7,436.6 1598.6,445.4 1603.2,431.1 1591.1,422.3 1606.1,422.3"/>
<polygon points="1626.0,408.1 1630.6,422.3 1645.6,422.3 1633.5,431.1 1638.1,445.4 1626.0,436.6 1613.9,445.4 1618.5,431.1 1606.4,422.3 1621.4,422.3"/>
<polygon points="1641.4,408.1 1646.0,422.3 1661.0,422.3 1648.9,431.1 1653.5,445.4 1641.4,436.6 1629.3,445.4 1633.9,431.1 1621.8,422.3 1636.8,422.3"/>
<polygon points="1656.7,408.1 1661.3,422.3 1676.3,422.3 1664.2,431.1 1668.8,445.4 1656.7,436.6 1644.6,445.4 1649.2,431.1 1637.1,422.3 1652.1,422.3"/>
<polygon points="1672.0,408.1 1676.6,422.3 1691.6,422.3 1679.5,431.1 1684.1,445.4 1672.0,436.6 1659.9,445.4 1664.5,431.1 1652.4,422.3 1667.4,422.3"/>
<polygon points="1687.3,408.1 1691.9,422.3 1706.9,422.3 1694.8,431.1 1699.4,445.4 1687.3,436.6 1675.2,445.4 1679.8,431.1 1667.7,422.3 1682.7,422.3"/>
<polygon points="1702.6,408.1 1707.2,422.3 1722.2,422.3 1710.1,431.1 1714.7,445.4 1702.6,436.6 1690.5,445.4 1695.1,431.1 1683.0,422.3 1698.0,422.3"/>
<polygon points="1717.9,408.1 1722.5,422.3 1737.5,422.3 1725.4,431.1 1730.0,445.4 1717.9,436.6 1705.8,445.4 1710.4,431.1 1698.3,422.3 1713.3,422.3"/>
<polygon points="1725.0,390.9 1729.6,405.1 1744.6,405.1 1732.5,413.9 1737.1,428.2 1725.0,419.4 1712.9,428.2 1717.5,413.9 1705.4,405.1 1720.4,405.1"/>
<polygon points="1736.1,393.0 1740.7,407.2 1755.7,407.2 1743.6,416.0 1748.2,430.3 1736.1,421.5 1724.0,430.3 1728.6,416.0 1716.5,407.2 1731.5,407.2"/>
<polygon points="1744.9,384.0 1749.5,398.2 1764.5,398.2 1752.4,407.0 1757.0,421.3 1744.9,412.5 1732.8,421.3 1737.4,407.0 1725.3,398.2 1740.3,398.2"/>
<polygon points="1747.9,404.6 1752.5,418.8 1767.5,418.8 1755.4,427.6 1760.0,441.9 1747.9,433.1 1735.8,441.9 1740.4,427.6 1728.3,418.8 1743.3,418.8"/>
<polygon points="1745.2,415.7 1749.8,429.9 1764.8,429.9 1752.7,438.7 1757.3,453.0 1745.2,444.2 1733.1,453.0 1737.7,438.7 1725.6,429.9 1740.6,429.9"/>
<polygon points="1745.2,411.8 1749.8,426.0 1764.8,426.0 1752.7,434.8 1757.3,449.1 1745.2,440.3 1733.1,449.1 1737.7,434.8 1725.6,426.0 1740.6,426.0"/>
<polygon points="1729.1,411.1 1733.7,425.3 1748.7,425.3 1736.6,434.1 1741.2,448.4 1729.1,439.6 1717.0,448.4 1721.6,434.1 1709.5,425.3 1724.5,425.3"/>
<polygon points="1727.1,403.9 1731.7,418.1 1746.7,418.1 1734.6,426.9 1739.2,441.2 1727.1,432.4 1715.0,441.2 1719.6,426.9 1707.5,418.1 1722.5,418.1"/>
<polygon points="1739.6,401.1 1744.2,415.3 1759.2,415.3 1747.1,424.1 1751.7,438.4 1739.6,429.6 1727.5,438.4 1732.1,424.1 1720.0,415.3 1735.0,415.3"/>
<polygon points="1734.0,396.9 1738.6,411.1 1753.6,411.1 1741.5,419.9 1746.1,434.2 1734.0,425.4 1721.9,434.2 1726.5,419.9 1714.4,411.1 1729.4,411.1"/>
</g><g fill="#000" shape-rendering="crispEdges">
<circle cx="508.7" cy="282.0" r="18.1"/>
<circle cx="496.9" cy="294.5" r="18.1"/>
<circle cx="581.5" cy="289.4" r="18.1"/>
<circle cx="387.3" cy="341.2" r="18.1"/>
<circle cx="461.4" cy="330.7" r="18.1"/>
<circle cx="494.1" cy="337.7" r="18.1"/>
<circle cx="471.8" cy="347.5" r="18.1"/>
<circle cx="526.1" cy="353.7" r="18.1"/>
<circle cx="489.2" cy="368.3" r="18.1"/>
<circle cx="602.0" cy="334.2" r="18.1"/>
<circle cx="607.6" cy="342.6" r="18.1"/>
<circle cx="578.3" cy="360.0" r="18.1"/>
<circle cx="644.4" cy="350.2" r="18.1"/>
<circle cx="544.9" cy="373.9" r="18.1"/>
<circle cx="617.3" cy="379.5" r="18.1"/>
<circle cx="407.1" cy="396.2" r="18.1"/>
<circle cx="424.5" cy="394.8" r="18.1"/>
<circle cx="471.1" cy="394.8" r="18.1"/>
<circle cx="453.0" cy="405.9" r="18.1"/>
<circle cx="434.9" cy="432.4" r="18.1"/>
<circle cx="452.3" cy="420.5" r="18.1"/>
<circle cx="415.4" cy="449.8" r="18.1"/>
<circle cx="400.8" cy="465.1" r="18.1"/>
<circle cx="448.4" cy="467.2" r="18.1"/>
<circle cx="508.7" cy="442.1" r="18.1"/>
<circle cx="511.5" cy="463.0" r="18.1"/>
<circle cx="433.5" cy="515.2" r="18.1"/>
<circle cx="431.4" cy="533.3" r="18.1"/>
<circle cx="450.2" cy="527.0" r="18.1"/>
<circle cx="471.1" cy="507.5" r="18.1"/>
<circle cx="488.9" cy="528.8" r="18.1"/>
<circle cx="391.1" cy="544.1" r="18.1"/>
<circle cx="392.9" cy="553.0" r="18.1"/>
<circle cx="445.6" cy="579.2" r="18.1"/>
<circle cx="485.5" cy="577.8" r="18.1"/>
<circle cx="528.2" cy="501.3" r="18.1"/>
<circle cx="542.1" cy="521.4" r="18.1"/>
<circle cx="559.5" cy="547.2" r="18.1"/>
<circle cx="579.0" cy="540.9" r="18.1"/>
<circle cx="628.0" cy="488.0" r="18.1"/>
<circle cx="663.2" cy="511.0" r="18.1"/>
<circle cx="544.9" cy="481.8" r="18.1"/>
<circle cx="568.6" cy="487.3" r="18.1"/>
<circle cx="585.3" cy="477.6" r="18.1"/>
<circle cx="599.2" cy="463.7" r="18.1"/>
<circle cx="682.1" cy="357.9" r="18.1"/>
<circle cx="704.4" cy="350.2" r="18.1"/>
<circle cx="733.6" cy="355.8" r="18.1"/>
<circle cx="732.3" cy="375.3" r="18.1"/>
<circle cx="747.6" cy="407.3" r="18.1"/>
<circle cx="747.6" cy="424.0" r="18.1"/>
<circle cx="746.9" cy="444.9" r="18.1"/>
<circle cx="743.4" cy="458.8" r="18.1"/>
<circle cx="733.6" cy="472.7" r="18.1"/>
<circle cx="718.3" cy="505.4" r="18.1"/>
<circle cx="728.1" cy="511.0" r="18.1"/>
<circle cx="754.1" cy="590.4" r="18.1"/>
<circle cx="669.6" cy="476.9" r="18.1"/>
<circle cx="697.5" cy="472.7" r="18.1"/>
<circle cx="744.8" cy="453.9" r="18.1"/>
<circle cx="747.6" cy="434.4" r="18.1"/>
<circle cx="598.6" cy="469.9" r="18.1"/>
<circle cx="508.4" cy="790.9" r="18.1"/>
<circle cx="449.1" cy="833.8" r="18.1"/>
<circle cx="478.8" cy="843.5" r="18.1"/>
<circle cx="414.0" cy="854.4" r="18.1"/>
<circle cx="404.7" cy="887.8" r="18.1"/>
<circle cx="577.6" cy="871.0" r="18.1"/>
<circle cx="530.7" cy="891.8" r="18.1"/>
<circle cx="461.4" cy="918.0" r="18.1"/>
<circle cx="525.7" cy="936.1" r="18.1"/>
<circle cx="494.1" cy="950.0" r="18.1"/>
<circle cx="510.1" cy="952.1" r="18.1"/>
<circle cx="574.8" cy="938.9" r="18.1"/>
<circle cx="603.4" cy="946.6" r="18.1"/>
<circle cx="641.0" cy="913.1" r="18.1"/>
<circle cx="632.6" cy="927.1" r="18.1"/>
<circle cx="434.9" cy="981.8" r="18.1"/>
<circle cx="489.2" cy="977.2" r="18.1"/>
<circle cx="500.4" cy="993.9" r="18.1"/>
<circle cx="538.6" cy="981.4" r="18.1"/>
<circle cx="571.4" cy="975.8" r="18.1"/>
<circle cx="392.5" cy="1014.0" r="18.1"/>
<circle cx="425.2" cy="1028.0" r="18.1"/>
<circle cx="415.4" cy="1050.5" r="18.1"/>
<circle cx="440.5" cy="1046.1" r="18.1"/>
<circle cx="469.7" cy="1029.4" r="18.1"/>
<circle cx="447.5" cy="1058.6" r="18.1"/>
<circle cx="387.3" cy="1071.8" r="18.1"/>
<circle cx="431.4" cy="1087.8" r="18.1"/>
<circle cx="450.2" cy="1079.5" r="18.1"/>
<circle cx="485.7" cy="1069.7" r="18.1"/>
<circle cx="487.8" cy="1079.5" r="18.1"/>
<circle cx="508.7" cy="1087.1" r="18.1"/>
<circle cx="540.7" cy="1107.3" r="18.1"/>
<circle cx="572.7" cy="1087.8" r="18.1"/>
<circle cx="592.2" cy="1068.3" r="18.1"/>
<circle cx="480.9" cy="1129.6" r="18.1"/>
<circle cx="488.5" cy="1156.0" r="18.1"/>
<circle cx="471.8" cy="1181.1" r="18.1"/>
<circle cx="447.5" cy="1199.2" r="18.1"/>
<circle cx="407.1" cy="1140.7" r="18.1"/>
<circle cx="391.8" cy="1157.4" r="18.1"/>
<circle cx="402.2" cy="1160.2" r="18.1"/>
<circle cx="663.2" cy="1136.6" r="18.1"/>
<circle cx="660.5" cy="1068.3" r="18.1"/>
<circle cx="507.3" cy="1039.1" r="18.1"/>
<circle cx="489.2" cy="963.9" r="18.1"/>
<circle cx="487.8" cy="984.8" r="18.1"/>
<circle cx="476.7" cy="1005.7" r="18.1"/>
<circle cx="503.1" cy="995.9" r="18.1"/>
<circle cx="524.0" cy="1061.4" r="18.1"/>
<circle cx="551.9" cy="1075.3" r="18.1"/>
<circle cx="614.5" cy="1053.0" r="18.1"/>
<circle cx="635.4" cy="1053.7" r="18.1"/>
<circle cx="581.5" cy="1201.9" r="18.1"/>
<circle cx="543.9" cy="1229.9" r="18.1"/>
<circle cx="579.0" cy="1252.9" r="18.1"/>
<circle cx="721.8" cy="843.5" r="18.1"/>
<circle cx="735.0" cy="842.8" r="18.1"/>
<circle cx="746.2" cy="847.0" r="18.1"/>
<circle cx="760.1" cy="860.9" r="18.1"/>
<circle cx="704.7" cy="931.9" r="18.1"/>
<circle cx="725.3" cy="952.1" r="18.1"/>
<circle cx="738.5" cy="954.9" r="18.1"/>
<circle cx="655.7" cy="960.5" r="18.1"/>
<circle cx="669.6" cy="963.3" r="18.1"/>
<circle cx="781.7" cy="929.8" r="18.1"/>
<circle cx="794.2" cy="934.7" r="18.1"/>
<circle cx="810.2" cy="965.3" r="18.1"/>
<circle cx="824.1" cy="977.2" r="18.1"/>
<circle cx="747.6" cy="993.9" r="18.1"/>
<circle cx="861.7" cy="1009.2" r="18.1"/>
<circle cx="689.1" cy="968.8" r="18.1"/>
<circle cx="708.6" cy="954.9" r="18.1"/>
<circle cx="668.9" cy="1099.0" r="18.1"/>
<circle cx="682.1" cy="1077.4" r="18.1"/>
<circle cx="661.3" cy="1072.5" r="18.1"/>
<circle cx="718.3" cy="1098.3" r="18.1"/>
<circle cx="728.4" cy="1112.9" r="18.1"/>
<circle cx="742.7" cy="1071.1" r="18.1"/>
<circle cx="725.3" cy="1072.5" r="18.1"/>
<circle cx="742.0" cy="1036.3" r="18.1"/>
<circle cx="747.6" cy="1005.7" r="18.1"/>
<circle cx="747.6" cy="991.8" r="18.1"/>
<circle cx="842.2" cy="1023.1" r="18.1"/>
<circle cx="855.5" cy="1030.1" r="18.1"/>
<circle cx="895.1" cy="1016.8" r="18.1"/>
<circle cx="884.0" cy="1069.7" r="18.1"/>
<circle cx="896.5" cy="1062.8" r="18.1"/>
<circle cx="597.2" cy="1061.4" r="18.1"/>
<circle cx="616.7" cy="1050.2" r="18.1"/>
<circle cx="732.3" cy="1047.5" r="18.1"/>
<circle cx="711.4" cy="1055.8" r="18.1"/>
<circle cx="754.1" cy="1282.9" r="18.1"/>
<circle cx="902.5" cy="1012.1" r="18.1"/>
<circle cx="894.1" cy="1020.5" r="18.1"/>
<circle cx="918.5" cy="1041.4" r="18.1"/>
<circle cx="955.4" cy="1037.2" r="18.1"/>
<circle cx="892.7" cy="1061.6" r="18.1"/>
<circle cx="932.4" cy="1062.3" r="18.1"/>
<circle cx="942.1" cy="1058.1" r="18.1"/>
<circle cx="989.5" cy="1029.5" r="18.1"/>
<circle cx="1013.1" cy="1023.3" r="18.1"/>
<circle cx="1010.4" cy="1052.5" r="18.1"/>
<circle cx="978.3" cy="1070.6" r="18.1"/>
<circle cx="990.9" cy="1074.8" r="18.1"/>
<circle cx="999.2" cy="1059.5" r="18.1"/>
<circle cx="959.1" cy="1097.1" r="18.1"/>
<circle cx="970.0" cy="1081.7" r="18.1"/>
<circle cx="1035.4" cy="1079.0" r="18.1"/>
<circle cx="1036.8" cy="1067.8" r="18.1"/>
<circle cx="1066.7" cy="1042.8" r="18.1"/>
<circle cx="1066.0" cy="1065.0" r="18.1"/>
<circle cx="1052.1" cy="1063.6" r="18.1"/>
<circle cx="1107.1" cy="1046.2" r="18.1"/>
<circle cx="1122.4" cy="1046.2" r="18.1"/>
<circle cx="1107.8" cy="1076.9" r="18.1"/>
<circle cx="1137.0" cy="1074.8" r="18.1"/>
<circle cx="1089.7" cy="1058.1" r="18.1"/>
<circle cx="1124.5" cy="1062.3" r="18.1"/>
<circle cx="1155.1" cy="1062.3" r="18.1"/>
<circle cx="1171.2" cy="1046.9" r="18.1"/>
<circle cx="1171.3" cy="1044.2" r="18.1"/>
<circle cx="1190.1" cy="1037.9" r="18.1"/>
<circle cx="1212.4" cy="1042.8" r="18.1"/>
<circle cx="1251.4" cy="1063.6" r="18.1"/>
<circle cx="1283.4" cy="1042.8" r="18.1"/>
<circle cx="1305.7" cy="1056.0" r="18.1"/>
<circle cx="1340.5" cy="1049.7" r="18.1"/>
<circle cx="1388.5" cy="1051.8" r="18.1"/>
<circle cx="1421.2" cy="1061.6" r="18.1"/>
<circle cx="1140.0" cy="1074.8" r="18.1"/>
<circle cx="1176.2" cy="1081.7" r="18.1"/>
<circle cx="1194.3" cy="1093.6" r="18.1"/>
<circle cx="1215.2" cy="1095.7" r="18.1"/>
<circle cx="1234.7" cy="1079.0" r="18.1"/>
<circle cx="1283.4" cy="1081.7" r="18.1"/>
<circle cx="1307.1" cy="1077.6" r="18.1"/>
<circle cx="1339.1" cy="1097.8" r="18.1"/>
<circle cx="1368.3" cy="1097.1" r="18.1"/>
<circle cx="1390.6" cy="1086.6" r="18.1"/>
<circle cx="1421.2" cy="1101.2" r="18.1"/>
<circle cx="1364.1" cy="1063.6" r="18.1"/>
<circle cx="1237.5" cy="1069.2" r="18.1"/>
<circle cx="1265.3" cy="1069.2" r="18.1"/>
<circle cx="1293.1" cy="1069.2" r="18.1"/>
<circle cx="1321.0" cy="1073.4" r="18.1"/>
<circle cx="1348.8" cy="1073.4" r="18.1"/>
<circle cx="1376.7" cy="1073.4" r="18.1"/>
<circle cx="1404.5" cy="1077.6" r="18.1"/>
<circle cx="1432.4" cy="1080.4" r="18.1"/>
<circle cx="1220.7" cy="1063.6" r="18.1"/>
<circle cx="1153.9" cy="1069.2" r="18.1"/>
<circle cx="1162.3" cy="1073.4" r="18.1"/>
<circle cx="1206.8" cy="1080.4" r="18.1"/>
<circle cx="1468.3" cy="1139.3" r="18.1"/>
<circle cx="1450.6" cy="1071.4" r="18.1"/>
<circle cx="1465.9" cy="1069.3" r="18.1"/>
<circle cx="1485.4" cy="1064.4" r="18.1"/>
<circle cx="1510.5" cy="1074.2" r="18.1"/>
<circle cx="1540.4" cy="1047.0" r="18.1"/>
<circle cx="1553.6" cy="1060.2" r="18.1"/>
<circle cx="1576.6" cy="1072.1" r="18.1"/>
<circle cx="1602.4" cy="1078.3" r="18.1"/>
<circle cx="1620.5" cy="1081.1" r="18.1"/>
<circle cx="1649.0" cy="1074.2" r="18.1"/>
<circle cx="1670.6" cy="1078.3" r="18.1"/>
<circle cx="1694.3" cy="1070.0" r="18.1"/>
<circle cx="1719.3" cy="1088.1" r="18.1"/>
<circle cx="1424.2" cy="1097.8" r="18.1"/>
<circle cx="1454.8" cy="1098.5" r="18.1"/>
<circle cx="1475.7" cy="1098.5" r="18.1"/>
<circle cx="1489.6" cy="1097.1" r="18.1"/>
<circle cx="1506.3" cy="1086.0" r="18.1"/>
<circle cx="1542.5" cy="1099.9" r="18.1"/>
<circle cx="1579.4" cy="1092.3" r="18.1"/>
<circle cx="1601.0" cy="1089.5" r="18.1"/>
<circle cx="1627.4" cy="1111.1" r="18.1"/>
<circle cx="1659.5" cy="1116.6" r="18.1"/>
<circle cx="1687.3" cy="1121.5" r="18.1"/>
<circle cx="1726.3" cy="1114.5" r="18.1"/>
<circle cx="1706.8" cy="1106.2" r="18.1"/>
<circle cx="1440.9" cy="1085.3" r="18.1"/>
<circle cx="1524.4" cy="1081.1" r="18.1"/>
<circle cx="1559.2" cy="1082.5" r="18.1"/>
<circle cx="1628.8" cy="1093.6" r="18.1"/>
<circle cx="1656.7" cy="1096.4" r="18.1"/>
<circle cx="1684.5" cy="1099.2" r="18.1"/>
<circle cx="1712.4" cy="1099.2" r="18.1"/>
<circle cx="1640.0" cy="1099.2" r="18.1"/>
<circle cx="1745.2" cy="1081.1" r="18.1"/>
<circle cx="1747.9" cy="1104.8" r="18.1"/>
<circle cx="1729.8" cy="1115.9" r="18.1"/>
<circle cx="1721.5" cy="1087.4" r="18.1"/>
<circle cx="1713.1" cy="1103.4" r="18.1"/>
<circle cx="1734.0" cy="1093.6" r="18.1"/>
<circle cx="490.6" cy="385.0" r="18.1"/>
<circle cx="489.2" cy="403.1" r="18.1"/>
<circle cx="487.8" cy="415.7" r="18.1"/>
<circle cx="551.9" cy="498.5" r="18.1"/>
<circle cx="604.8" cy="466.5" r="18.1"/>
<circle cx="614.5" cy="462.3" r="18.1"/>
<circle cx="628.4" cy="453.9" r="18.1"/>
<circle cx="635.4" cy="451.1" r="18.1"/>
<circle cx="479.0" cy="211.6" r="18.1"/>
<circle cx="581.3" cy="367.7" r="18.1"/>
<circle cx="622.1" cy="381.3" r="18.1"/>
<circle cx="671.0" cy="375.9" r="18.1"/>
<circle cx="706.4" cy="378.6" r="18.1"/>
<circle cx="495.7" cy="985.2" r="18.1"/>
<circle cx="505.6" cy="1005.0" r="18.1"/>
<circle cx="507.3" cy="1034.8" r="18.1"/>
<circle cx="522.2" cy="1048.1" r="18.1"/>
<circle cx="540.4" cy="1059.7" r="18.1"/>
<circle cx="561.9" cy="1064.6" r="18.1"/>
<circle cx="581.8" cy="1067.9" r="18.1"/>
<circle cx="1537.0" cy="1072.0" r="18.1"/>
<circle cx="540.0" cy="362.0" r="18.1"/>
<circle cx="514.2" cy="369.0" r="18.1"/>
<circle cx="592.9" cy="369.0" r="18.1"/>
<circle cx="646.3" cy="382.4" r="18.1"/>
<circle cx="524.6" cy="382.4" r="18.1"/>
<circle cx="628.5" cy="949.0" r="18.1"/>
<circle cx="530.5" cy="1082.7" r="18.1"/>
<circle cx="502.3" cy="1063.4" r="18.1"/>
<circle cx="488.9" cy="1020.3" r="18.1"/>
<circle cx="519.0" cy="392.0" r="18.1"/>
<circle cx="533.0" cy="392.0" r="18.1"/>
<circle cx="547.0" cy="392.0" r="18.1"/>
<circle cx="561.0" cy="392.0" r="18.1"/>
<circle cx="575.0" cy="392.0" r="18.1"/>
<circle cx="589.0" cy="392.0" r="18.1"/>
<circle cx="603.0" cy="392.0" r="18.1"/>
<circle cx="617.0" cy="392.0" r="18.1"/>
<circle cx="631.0" cy="392.0" r="18.1"/>
<circle cx="645.0" cy="392.0" r="18.1"/>
<circle cx="659.0" cy="392.0" r="18.1"/>
<circle cx="673.0" cy="392.0" r="18.1"/>
<circle cx="687.0" cy="392.0" r="18.1"/>
<circle cx="701.0" cy="392.0" r="18.1"/>
<circle cx="715.0" cy="392.0" r="18.1"/>
<circle cx="729.0" cy="392.0" r="18.1"/>
<circle cx="743.0" cy="392.0" r="18.1"/>
<circle cx="526.0" cy="404.0" r="18.1"/>
<circle cx="540.0" cy="404.0" r="18.1"/>
<circle cx="554.0" cy="404.0" r="18.1"/>
<circle cx="568.0" cy="404.0" r="18.1"/>
<circle cx="582.0" cy="404.0" r="18.1"/>
<circle cx="596.0" cy="404.0" r="18.1"/>
<circle cx="610.0" cy="404.0" r="18.1"/>
<circle cx="624.0" cy="404.0" r="18.1"/>
<circle cx="638.0" cy="404.0" r="18.1"/>
<circle cx="652.0" cy="404.0" r="18.1"/>
<circle cx="666.0" cy="404.0" r="18.1"/>
<circle cx="680.0" cy="404.0" r="18.1"/>
<circle cx="694.0" cy="404.0" r="18.1"/>
<circle cx="708.0" cy="404.0" r="18.1"/>
<circle cx="722.0" cy="404.0" r="18.1"/>
<circle cx="736.0" cy="404.0" r="18.1"/>
<circle cx="519.0" cy="416.0" r="18.1"/>
<circle cx="533.0" cy="416.0" r="18.1"/>
<circle cx="547.0" cy="416.0" r="18.1"/>
<circle cx="561.0" cy="416.0" r="18.1"/>
<circle cx="575.0" cy="416.0" r="18.1"/>
<circle cx="589.0" cy="416.0" r="18.1"/>
<circle cx="603.0" cy="416.0" r="18.1"/>
<circle cx="617.0" cy="416.0" r="18.1"/>
<circle cx="631.0" cy="416.0" r="18.1"/>
<circle cx="645.0" cy="416.0" r="18.1"/>
<circle cx="659.0" cy="416.0" r="18.1"/>
<circle cx="673.0" cy="416.0" r="18.1"/>
<circle cx="687.0" cy="416.0" r="18.1"/>
<circle cx="701.0" cy="416.0" r="18.1"/>
<circle cx="715.0" cy="416.0" r="18.1"/>
<circle cx="729.0" cy="416.0" r="18.1"/>
<circle cx="743.0" cy="416.0" r="18.1"/>
<circle cx="526.0" cy="428.0" r="18.1"/>
<circle cx="540.0" cy="428.0" r="18.1"/>
<circle cx="554.0" cy="428.0" r="18.1"/>
<circle cx="568.0" cy="428.0" r="18.1"/>
<circle cx="582.0" cy="428.0" r="18.1"/>
<circle cx="596.0" cy="428.0" r="18.1"/>
<circle cx="610.0" cy="428.0" r="18.1"/>
<circle cx="624.0" cy="428.0" r="18.1"/>
<circle cx="638.0" cy="428.0" r="18.1"/>
<circle cx="652.0" cy="428.0" r="18.1"/>
<circle cx="666.0" cy="428.0" r="18.1"/>
<circle cx="680.0" cy="428.0" r="18.1"/>
<circle cx="694.0" cy="428.0" r="18.1"/>
<circle cx="708.0" cy="428.0" r="18.1"/>
<circle cx="722.0" cy="428.0" r="18.1"/>
<circle cx="736.0" cy="428.0" r="18.1"/>
<circle cx="519.0" cy="440.0" r="18.1"/>
<circle cx="533.0" cy="440.0" r="18.1"/>
<circle cx="547.0" cy="440.0" r="18.1"/>
<circle cx="561.0" cy="440.0" r="18.1"/>
<circle cx="575.0" cy="440.0" r="18.1"/>
<circle cx="589.0" cy="440.0" r="18.1"/>
<circle cx="603.0" cy="440.0" r="18.1"/>
<circle cx="617.0" cy="440.0" r="18.1"/>
<circle cx="631.0" cy="440.0" r="18.1"/>
<circle cx="645.0" cy="440.0" r="18.1"/>
<circle cx="659.0" cy="440.0" r="18.1"/>
<circle cx="673.0" cy="440.0" r="18.1"/>
<circle cx="687.0" cy="440.0" r="18.1"/>
<circle cx="701.0" cy="440.0" r="18.1"/>
<circle cx="715.0" cy="440.0" r="18.1"/>
<circle cx="729.0" cy="440.0" r="18.1"/>
<circle cx="743.0" cy="440.0" r="18.1"/>
<circle cx="526.0" cy="452.0" r="18.1"/>
<circle cx="540.0" cy="452.0" r="18.1"/>
<circle cx="554.0" cy="452.0" r="18.1"/>
<circle cx="568.0" cy="452.0" r="18.1"/>
<circle cx="582.0" cy="452.0" r="18.1"/>
<circle cx="596.0" cy="452.0" r="18.1"/>
<circle cx="610.0" cy="452.0" r="18.1"/>
<circle cx="624.0" cy="452.0" r="18.1"/>
<circle cx="638.0" cy="452.0" r="18.1"/>
<circle cx="652.0" cy="452.0" r="18.1"/>
<circle cx="666.0" cy="452.0" r="18.1"/>
<circle cx="680.0" cy="452.0" r="18.1"/>
<circle cx="694.0" cy="452.0" r="18.1"/>
<circle cx="708.0" cy="452.0" r="18.1"/>
<circle cx="722.0" cy="452.0" r="18.1"/>
<circle cx="736.0" cy="452.0" r="18.1"/>
<circle cx="533.0" cy="464.0" r="18.1"/>
<circle cx="547.0" cy="464.0" r="18.1"/>
<circle cx="561.0" cy="464.0" r="18.1"/>
<circle cx="575.0" cy="464.0" r="18.1"/>
<circle cx="589.0" cy="464.0" r="18.1"/>
<circle cx="603.0" cy="464.0" r="18.1"/>
<circle cx="659.0" cy="464.0" r="18.1"/>
<circle cx="673.0" cy="464.0" r="18.1"/>
<circle cx="687.0" cy="464.0" r="18.1"/>
<circle cx="701.0" cy="464.0" r="18.1"/>
<circle cx="715.0" cy="464.0" r="18.1"/>
<circle cx="729.0" cy="464.0" r="18.1"/>
<circle cx="743.0" cy="464.0" r="18.1"/>
<circle cx="555.0" cy="972.0" r="18.1"/>
<circle cx="569.0" cy="972.0" r="18.1"/>
<circle cx="583.0" cy="972.0" r="18.1"/>
<circle cx="597.0" cy="972.0" r="18.1"/>
<circle cx="611.0" cy="972.0" r="18.1"/>
<circle cx="625.0" cy="972.0" r="18.1"/>
<circle cx="639.0" cy="972.0" r="18.1"/>
<circle cx="653.0" cy="972.0" r="18.1"/>
<circle cx="667.0" cy="972.0" r="18.1"/>
<circle cx="681.0" cy="972.0" r="18.1"/>
<circle cx="695.0" cy="972.0" r="18.1"/>
<circle cx="709.0" cy="972.0" r="18.1"/>
<circle cx="723.0" cy="972.0" r="18.1"/>
<circle cx="737.0" cy="972.0" r="18.1"/>
<circle cx="534.0" cy="984.0" r="18.1"/>
<circle cx="548.0" cy="984.0" r="18.1"/>
<circle cx="562.0" cy="984.0" r="18.1"/>
<circle cx="576.0" cy="984.0" r="18.1"/>
<circle cx="590.0" cy="984.0" r="18.1"/>
<circle cx="604.0" cy="984.0" r="18.1"/>
<circle cx="618.0" cy="984.0" r="18.1"/>
<circle cx="632.0" cy="984.0" r="18.1"/>
<circle cx="646.0" cy="984.0" r="18.1"/>
<circle cx="660.0" cy="984.0" r="18.1"/>
<circle cx="674.0" cy="984.0" r="18.1"/>
<circle cx="688.0" cy="984.0" r="18.1"/>
<circle cx="702.0" cy="984.0" r="18.1"/>
<circle cx="716.0" cy="984.0" r="18.1"/>
<circle cx="730.0" cy="984.0" r="18.1"/>
<circle cx="527.0" cy="996.0" r="18.1"/>
<circle cx="541.0" cy="996.0" r="18.1"/>
<circle cx="555.0" cy="996.0" r="18.1"/>
<circle cx="569.0" cy="996.0" r="18.1"/>
<circle cx="583.0" cy="996.0" r="18.1"/>
<circle cx="597.0" cy="996.0" r="18.1"/>
<circle cx="611.0" cy="996.0" r="18.1"/>
<circle cx="625.0" cy="996.0" r="18.1"/>
<circle cx="639.0" cy="996.0" r="18.1"/>
<circle cx="653.0" cy="996.0" r="18.1"/>
<circle cx="667.0" cy="996.0" r="18.1"/>
<circle cx="681.0" cy="996.0" r="18.1"/>
<circle cx="695.0" cy="996.0" r="18.1"/>
<circle cx="709.0" cy="996.0" r="18.1"/>
<circle cx="723.0" cy="996.0" r="18.1"/>
<circle cx="737.0" cy="996.0" r="18.1"/>
<circle cx="534.0" cy="1008.0" r="18.1"/>
<circle cx="548.0" cy="1008.0" r="18.1"/>
<circle cx="562.0" cy="1008.0" r="18.1"/>
<circle cx="576.0" cy="1008.0" r="18.1"/>
<circle cx="590.0" cy="1008.0" r="18.1"/>
<circle cx="604.0" cy="1008.0" r="18.1"/>
<circle cx="618.0" cy="1008.0" r="18.1"/>
<circle cx="632.0" cy="1008.0" r="18.1"/>
<circle cx="646.0" cy="1008.0" r="18.1"/>
<circle cx="660.0" cy="1008.0" r="18.1"/>
<circle cx="674.0" cy="1008.0" r="18.1"/>
<circle cx="688.0" cy="1008.0" r="18.1"/>
<circle cx="702.0" cy="1008.0" r="18.1"/>
<circle cx="716.0" cy="1008.0" r="18.1"/>
<circle cx="730.0" cy="1008.0" r="18.1"/>
<circle cx="744.0" cy="1008.0" r="18.1"/>
<circle cx="527.0" cy="1020.0" r="18.1"/>
<circle cx="541.0" cy="1020.0" r="18.1"/>
<circle cx="555.0" cy="1020.0" r="18.1"/>
<circle cx="569.0" cy="1020.0" r="18.1"/>
<circle cx="583.0" cy="1020.0" r="18.1"/>
<circle cx="597.0" cy="1020.0" r="18.1"/>
<circle cx="611.0" cy="1020.0" r="18.1"/>
<circle cx="625.0" cy="1020.0" r="18.1"/>
<circle cx="639.0" cy="1020.0" r="18.1"/>
<circle cx="653.0" cy="1020.0" r="18.1"/>
<circle cx="667.0" cy="1020.0" r="18.1"/>
<circle cx="681.0" cy="1020.0" r="18.1"/>
<circle cx="695.0" cy="1020.0" r="18.1"/>
<circle cx="709.0" cy="1020.0" r="18.1"/>
<circle cx="723.0" cy="1020.0" r="18.1"/>
<circle cx="737.0" cy="1020.0" r="18.1"/>
<circle cx="534.0" cy="1032.0" r="18.1"/>
<circle cx="548.0" cy="1032.0" r="18.1"/>
<circle cx="562.0" cy="1032.0" r="18.1"/>
<circle cx="576.0" cy="1032.0" r="18.1"/>
<circle cx="590.0" cy="1032.0" r="18.1"/>
<circle cx="604.0" cy="1032.0" r="18.1"/>
<circle cx="618.0" cy="1032.0" r="18.1"/>
<circle cx="632.0" cy="1032.0" r="18.1"/>
<circle cx="646.0" cy="1032.0" r="18.1"/>
<circle cx="660.0" cy="1032.0" r="18.1"/>
<circle cx="674.0" cy="1032.0" r="18.1"/>
<circle cx="688.0" cy="1032.0" r="18.1"/>
<circle cx="702.0" cy="1032.0" r="18.1"/>
<circle cx="716.0" cy="1032.0" r="18.1"/>
<circle cx="730.0" cy="1032.0" r="18.1"/>
<circle cx="744.0" cy="1032.0" r="18.1"/>
<circle cx="555.0" cy="1044.0" r="18.1"/>
<circle cx="569.0" cy="1044.0" r="18.1"/>
<circle cx="583.0" cy="1044.0" r="18.1"/>
<circle cx="597.0" cy="1044.0" r="18.1"/>
<circle cx="611.0" cy="1044.0" r="18.1"/>
<circle cx="625.0" cy="1044.0" r="18.1"/>
<circle cx="639.0" cy="1044.0" r="18.1"/>
<circle cx="653.0" cy="1044.0" r="18.1"/>
<circle cx="667.0" cy="1044.0" r="18.1"/>
<circle cx="681.0" cy="1044.0" r="18.1"/>
<circle cx="695.0" cy="1044.0" r="18.1"/>
<circle cx="709.0" cy="1044.0" r="18.1"/>
<circle cx="723.0" cy="1044.0" r="18.1"/>
</g>
<g fill="#000" shape-rendering="crispEdges">
<rect x="331" y="84" width="8" height="1298"/>
<rect x="331" y="1374" width="1537" height="8"/>
<rect x="331" y="84" width="1537" height="8"/>
<rect x="1861" y="84" width="6" height="1298"/>
<rect x="366" y="1324" width="8" height="54"/>
<rect x="366" y="88" width="8" height="54"/>
<rect x="401" y="1351" width="8" height="27"/>
<rect x="401" y="88" width="8" height="27"/>
<rect x="435" y="1351" width="8" height="27"/>
<rect x="435" y="88" width="8" height="27"/>
<rect x="470" y="1351" width="8" height="27"/>
<rect x="470" y="88" width="8" height="27"/>
<rect x="505" y="1351" width="8" height="27"/>
<rect x="505" y="88" width="8" height="27"/>
<rect x="540" y="1351" width="8" height="27"/>
<rect x="540" y="88" width="8" height="27"/>
<rect x="574" y="1351" width="8" height="27"/>
<rect x="574" y="88" width="8" height="27"/>
<rect x="609" y="1351" width="8" height="27"/>
<rect x="609" y="88" width="8" height="27"/>
<rect x="644" y="1351" width="8" height="27"/>
<rect x="644" y="88" width="8" height="27"/>
<rect x="679" y="1351" width="8" height="27"/>
<rect x="679" y="88" width="8" height="27"/>
<rect x="713" y="1324" width="8" height="54"/>
<rect x="713" y="88" width="8" height="54"/>
<rect x="748" y="1351" width="8" height="27"/>
<rect x="748" y="88" width="8" height="27"/>
<rect x="783" y="1351" width="8" height="27"/>
<rect x="783" y="88" width="8" height="27"/>
<rect x="818" y="1351" width="8" height="27"/>
<rect x="818" y="88" width="8" height="27"/>
<rect x="852" y="1351" width="8" height="27"/>
<rect x="852" y="88" width="8" height="27"/>
<rect x="887" y="1351" width="8" height="27"/>
<rect x="887" y="88" width="8" height="27"/>
<rect x="922" y="1351" width="8" height="27"/>
<rect x="922" y="88" width="8" height="27"/>
<rect x="957" y="1351" width="8" height="27"/>
<rect x="957" y="88" width="8" height="27"/>
<rect x="991" y="1351" width="8" height="27"/>
<rect x="991" y="88" width="8" height="27"/>
<rect x="1026" y="1351" width="8" height="27"/>
<rect x="1026" y="88" width="8" height="27"/>
<rect x="1061" y="1324" width="8" height="54"/>
<rect x="1061" y="88" width="8" height="54"/>
<rect x="1096" y="1351" width="8" height="27"/>
<rect x="1096" y="88" width="8" height="27"/>
<rect x="1130" y="1351" width="8" height="27"/>
<rect x="1130" y="88" width="8" height="27"/>
<rect x="1165" y="1351" width="8" height="27"/>
<rect x="1165" y="88" width="8" height="27"/>
<rect x="1200" y="1351" width="8" height="27"/>
<rect x="1200" y="88" width="8" height="27"/>
<rect x="1234" y="1351" width="8" height="27"/>
<rect x="1234" y="88" width="8" height="27"/>
<rect x="1269" y="1351" width="8" height="27"/>
<rect x="1269" y="88" width="8" height="27"/>
<rect x="1304" y="1351" width="8" height="27"/>
<rect x="1304" y="88" width="8" height="27"/>
<rect x="1339" y="1351" width="8" height="27"/>
<rect x="1339" y="88" width="8" height="27"/>
<rect x="1373" y="1351" width="8" height="27"/>
<rect x="1373" y="88" width="8" height="27"/>
<rect x="1408" y="1324" width="8" height="54"/>
<rect x="1408" y="88" width="8" height="54"/>
<rect x="1443" y="1351" width="8" height="27"/>
<rect x="1443" y="88" width="8" height="27"/>
<rect x="1478" y="1351" width="8" height="27"/>
<rect x="1478" y="88" width="8" height="27"/>
<rect x="1512" y="1351" width="8" height="27"/>
<rect x="1512" y="88" width="8" height="27"/>
<rect x="1547" y="1351" width="8" height="27"/>
<rect x="1547" y="88" width="8" height="27"/>
<rect x="1582" y="1351" width="8" height="27"/>
<rect x="1582" y="88" width="8" height="27"/>
<rect x="1617" y="1351" width="8" height="27"/>
<rect x="1617" y="88" width="8" height="27"/>
<rect x="1651" y="1351" width="8" height="27"/>
<rect x="1651" y="88" width="8" height="27"/>
<rect x="1686" y="1351" width="8" height="27"/>
<rect x="1686" y="88" width="8" height="27"/>
<rect x="1721" y="1351" width="8" height="27"/>
<rect x="1721" y="88" width="8" height="27"/>
<rect x="1756" y="1324" width="8" height="54"/>
<rect x="1756" y="88" width="8" height="54"/>
<rect x="1790" y="1351" width="8" height="27"/>
<rect x="1790" y="88" width="8" height="27"/>
<rect x="1825" y="1351" width="8" height="27"/>
<rect x="1825" y="88" width="8" height="27"/>
<rect x="1860" y="1351" width="8" height="27"/>
<rect x="1860" y="88" width="8" height="27"/>
<rect x="335" y="1374" width="53" height="8"/>
<rect x="335" y="1245" width="27" height="8"/>
<rect x="335" y="1116" width="27" height="8"/>
<rect x="335" y="987" width="27" height="8"/>
<rect x="335" y="858" width="27" height="8"/>
<rect x="335" y="729" width="53" height="8"/>
<rect x="335" y="600" width="27" height="8"/>
<rect x="335" y="471" width="27" height="8"/>
<rect x="335" y="342" width="27" height="8"/>
<rect x="335" y="213" width="27" height="8"/>
<rect x="335" y="84" width="53" height="8"/>
<rect x="1835" y="1375" width="28" height="7"/>
<rect x="1849" y="1342" width="14" height="7"/>
<rect x="1849" y="1310" width="14" height="7"/>
<rect x="1849" y="1278" width="14" height="7"/>
<rect x="1849" y="1246" width="14" height="7"/>
<rect x="1835" y="1213" width="28" height="7"/>
<rect x="1849" y="1181" width="14" height="7"/>
<rect x="1849" y="1149" width="14" height="7"/>
<rect x="1849" y="1117" width="14" height="7"/>
<rect x="1849" y="1084" width="14" height="7"/>
<rect x="1835" y="1052" width="28" height="7"/>
<rect x="1849" y="1020" width="14" height="7"/>
<rect x="1849" y="988" width="14" height="7"/>
<rect x="1849" y="955" width="14" height="7"/>
<rect x="1849" y="923" width="14" height="7"/>
<rect x="1835" y="891" width="28" height="7"/>
<rect x="1849" y="859" width="14" height="7"/>
<rect x="1849" y="826" width="14" height="7"/>
<rect x="1849" y="794" width="14" height="7"/>
<rect x="1849" y="762" width="14" height="7"/>
<rect x="1835" y="730" width="28" height="7"/>
<rect x="1849" y="697" width="14" height="7"/>
<rect x="1849" y="665" width="14" height="7"/>
<rect x="1849" y="633" width="14" height="7"/>
<rect x="1849" y="601" width="14" height="7"/>
<rect x="1835" y="568" width="28" height="7"/>
<rect x="1849" y="536" width="14" height="7"/>
<rect x="1849" y="504" width="14" height="7"/>
<rect x="1849" y="472" width="14" height="7"/>
<rect x="1849" y="439" width="14" height="7"/>
<rect x="1835" y="407" width="28" height="7"/>
<rect x="1849" y="375" width="14" height="7"/>
<rect x="1849" y="343" width="14" height="7"/>
<rect x="1849" y="310" width="14" height="7"/>
<rect x="1849" y="278" width="14" height="7"/>
<rect x="1835" y="246" width="28" height="7"/>
<rect x="1849" y="214" width="14" height="7"/>
<rect x="1849" y="181" width="14" height="7"/>
<rect x="1849" y="149" width="14" height="7"/>
<rect x="1849" y="117" width="14" height="7"/>
<rect x="1835" y="85" width="28" height="7"/>
</g>
<g font-size="86">
<text transform="translate(355.5,1521) scale(0.975,1.035)" text-anchor="middle">0</text>
<text transform="translate(705.5,1521) scale(0.975,1.035)" text-anchor="middle">50</text>
<text transform="translate(1053,1521) scale(0.975,1.035)" text-anchor="middle">100</text>
<text transform="translate(1400,1521) scale(0.975,1.035)" text-anchor="middle">150</text>
<text transform="translate(1745.5,1521) scale(0.975,1.035)" text-anchor="middle">200</text>
<text transform="translate(276,114) scale(0.975,1.035)" text-anchor="end">80</text>
<text transform="translate(276,758) scale(0.975,1.035)" text-anchor="end">60</text>
<text transform="translate(276,1403) scale(0.975,1.035)" text-anchor="end">40</text>
<text transform="translate(1894.5,1404.0) scale(0.975,1.035)" text-anchor="start">7</text>
<text transform="translate(1894.5,1242.8) scale(0.975,1.035)" text-anchor="start">8</text>
<text transform="translate(1894.5,1081.5) scale(0.975,1.035)" text-anchor="start">9</text>
<text transform="translate(1894.5,920.2) scale(0.975,1.035)" text-anchor="start">10</text>
<text transform="translate(1894.5,759.0) scale(0.975,1.035)" text-anchor="start">11</text>
<text transform="translate(1894.5,597.8) scale(0.975,1.035)" text-anchor="start">12</text>
<text transform="translate(1894.5,436.5) scale(0.975,1.035)" text-anchor="start">13</text>
<text transform="translate(1894.5,275.2) scale(0.975,1.035)" text-anchor="start">14</text>
<text transform="translate(1894.5,114.0) scale(0.975,1.035)" text-anchor="start">15</text>
</g>
<text x="1059" y="1644" font-size="102" text-anchor="middle">Displacement, nm</text>
<text transform="translate(133,736.5) rotate(-90)" font-size="101.6" text-anchor="middle">Reduced modulus, GPa</text>
<text transform="translate(2097,736) rotate(-90)" font-size="101.6" text-anchor="middle">Hardness, GPa</text>
<rect x="925" y="546" width="811" height="196" fill="#fff" stroke="#000" stroke-width="2" shape-rendering="crispEdges"/>
<g fill="#000" shape-rendering="crispEdges"><g stroke="#000" stroke-width="2" stroke-linejoin="bevel"><polygon points="1019.0,576.7 1023.6,590.9 1038.6,590.9 1026.5,599.7 1031.1,614.0 1019.0,605.2 1006.9,614.0 1011.5,599.7 999.4,590.9 1014.4,590.9"/></g><circle cx="1019" cy="689.8" r="18.1"/></g>
<text x="1123" y="623" font-size="75">Reduced modulus</text>
<text x="1123" y="716" font-size="75">Hardness</text>
<text x="1649" y="333" font-size="69">69.6</text>
<text x="1622" y="914.7" font-size="69">9.25</text>
<g stroke="#000" stroke-width="2" fill="#000"><line x1="1761.5" y1="339.2" x2="1796" y2="403"/><polygon points="1809.6,428.5 1783,399.3 1800.2,390.3" stroke="none"/>
<line x1="1721.7" y1="939.4" x2="1754" y2="982"/><polygon points="1771.6,1005.7 1741,981 1756.4,969.2" stroke="none"/></g>
</svg></body></html>
